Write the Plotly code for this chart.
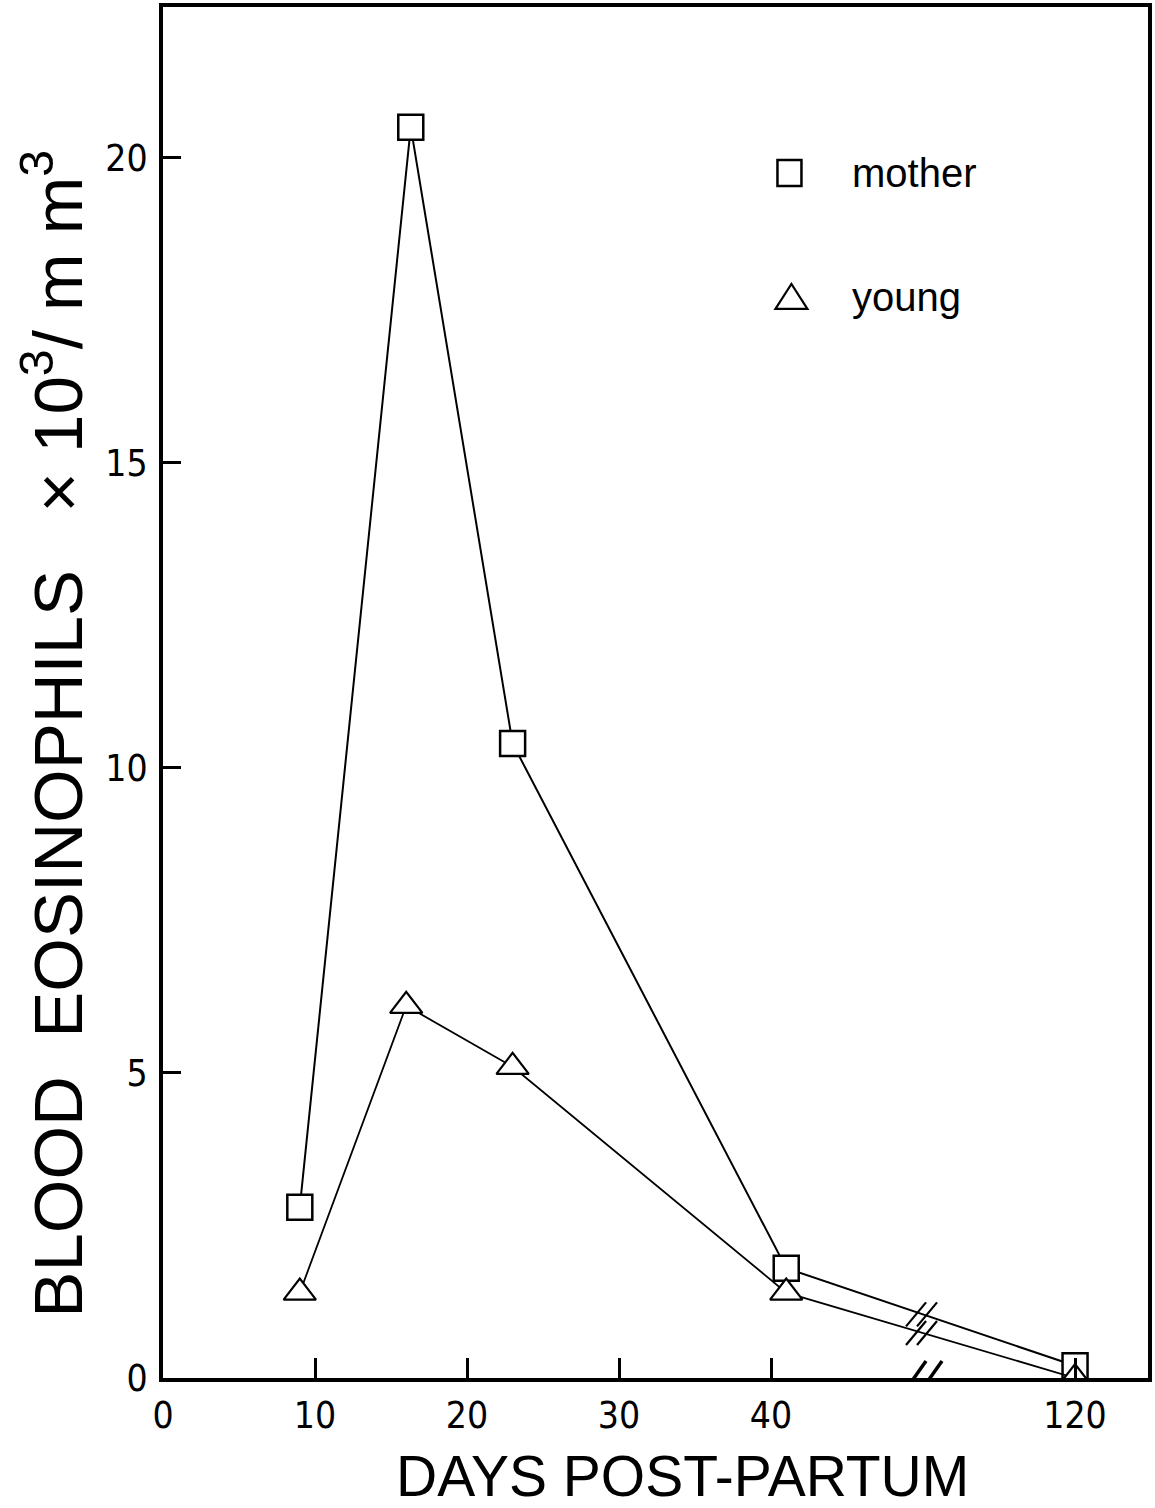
import plotly.graph_objects as go

# ---- data ----
days_mother = [9, 16.3, 23, 41, 120]
mother = [2.8, 20.5, 10.4, 1.8, 0.2]
days_young = [9, 16, 23, 41, 120]
young = [1.4, 6.1, 5.1, 1.4, 0.0]
x_tick_days = [0, 10, 20, 30, 40, 120]
y_ticks = [0, 5, 10, 15, 20]

# broken x axis: days beyond the break are shifted left
BREAK_AT = 50      # axis position of the break marks
SHIFT = 60         # 120 days drawn at axis position 60


def to_axis(d):
    return d if d <= 45 else d - SHIFT


xm = [to_axis(d) for d in days_mother]
xy = [to_axis(d) for d in days_young]
x_tick_pos = [to_axis(d) for d in x_tick_days]

TICK_FONT = dict(family="DejaVu Sans Condensed, Liberation Sans, Arial, sans-serif", size=37, color="black")
TITLE_FONT = "Liberation Sans, Arial, sans-serif"

fig = go.Figure()
fig.add_trace(go.Scatter(
    x=xm, y=mother, mode="lines+markers", name="mother",
    line=dict(color="black", width=2),
    marker=dict(symbol="square", size=25, color="white", line=dict(color="black", width=2.5)),
))
fig.add_trace(go.Scatter(
    x=xy, y=young, mode="lines+markers", name="young",
    line=dict(color="black", width=1.8),
    marker=dict(symbol="triangle-up", size=28, color="white", line=dict(color="black", width=2.2)),
))


def interp(xs, ys, x):
    for i in range(len(xs) - 1):
        if xs[i] <= x <= xs[i + 1]:
            t = (x - xs[i]) / (xs[i + 1] - xs[i])
            return ys[i] + t * (ys[i + 1] - ys[i])
    return ys[-1]


shapes = []


def slashes(yval, dx=(-9, 6), half_w=11, half_h=15, w=2.5):
    for off in dx:
        shapes.append(dict(
            type="line", xref="x", yref="y",
            xsizemode="pixel", ysizemode="pixel",
            xanchor=BREAK_AT, yanchor=yval,
            x0=off - half_w, x1=off + half_w, y0=-half_h, y1=half_h,
            line=dict(color="black", width=w),
        ))


# break marks on the axis and on both series
slashes(0, dx=(-9, 7), half_w=12, half_h=17, w=3.5)
slashes(interp(xm, mother, BREAK_AT), dx=(-7, 4), half_w=10, half_h=12, w=2.2)
slashes(interp(xy, young, BREAK_AT), dx=(-7, 4), half_w=10, half_h=12, w=2.2)

# hand-drawn style legend
shapes.append(dict(type="rect", xref="paper", yref="paper", xsizemode="pixel", ysizemode="pixel",
                   xanchor=0.636, yanchor=0.879, x0=-12, x1=12, y0=-13, y1=13,
                   line=dict(color="black", width=2.5), fillcolor="white"))
shapes.append(dict(type="path", xref="paper", yref="paper", xsizemode="pixel", ysizemode="pixel",
                   xanchor=0.638, yanchor=0.7885, path="M-16,-12 L16,-12 L0,13 Z",
                   line=dict(color="black", width=2.2), fillcolor="white"))

annotations = [
    dict(text="mother", xref="paper", yref="paper", x=0.697, y=0.879, xanchor="left", yanchor="middle",
         showarrow=False, font=dict(family=TITLE_FONT, size=40, color="black")),
    dict(text="young", xref="paper", yref="paper", x=0.697, y=0.7885, xanchor="left", yanchor="middle",
         showarrow=False, font=dict(family=TITLE_FONT, size=40, color="black")),
    dict(text="DAYS POST-PARTUM", xref="paper", yref="paper", x=0.527, y=0, yshift=-98,
         xanchor="center", yanchor="middle", showarrow=False,
         font=dict(family=TITLE_FONT, size=57, color="black")),
    dict(text="BLOOD&nbsp;&nbsp;EOSINOPHILS&nbsp;&nbsp;&nbsp;×&nbsp;10<sup>3</sup>/&nbsp;m&nbsp;m<sup>3</sup>",
         xref="paper", yref="paper", x=0, xshift=-110, y=0.4700, textangle=-90,
         xanchor="center", yanchor="middle", showarrow=False,
         font=dict(family=TITLE_FONT, size=69, color="black")),
]

fig.update_layout(
    width=1155, height=1508,
    margin=dict(l=163, r=3, t=7, b=130),
    paper_bgcolor="white", plot_bgcolor="white",
    showlegend=False,
    shapes=shapes, annotations=annotations,
)
fig.update_xaxes(
    range=[0, 64.8], tickvals=x_tick_pos, ticktext=[str(d) for d in x_tick_days],
    showgrid=False, zeroline=False, showline=True, linecolor="black", linewidth=4, mirror=True,
    ticks="inside", ticklen=20, tickwidth=3, tickcolor="black", tickfont=TICK_FONT,
    ticklabelstandoff=2,
)
fig.update_yaxes(
    range=[0, 22.47], tickvals=y_ticks, ticktext=[str(v) for v in y_ticks],
    showgrid=False, zeroline=False, showline=True, linecolor="black", linewidth=4, mirror=True,
    ticks="inside", ticklen=18, tickwidth=3, tickcolor="black", tickfont=TICK_FONT,
    ticklabelstandoff=4,
)

fig.write_html("out.html")
